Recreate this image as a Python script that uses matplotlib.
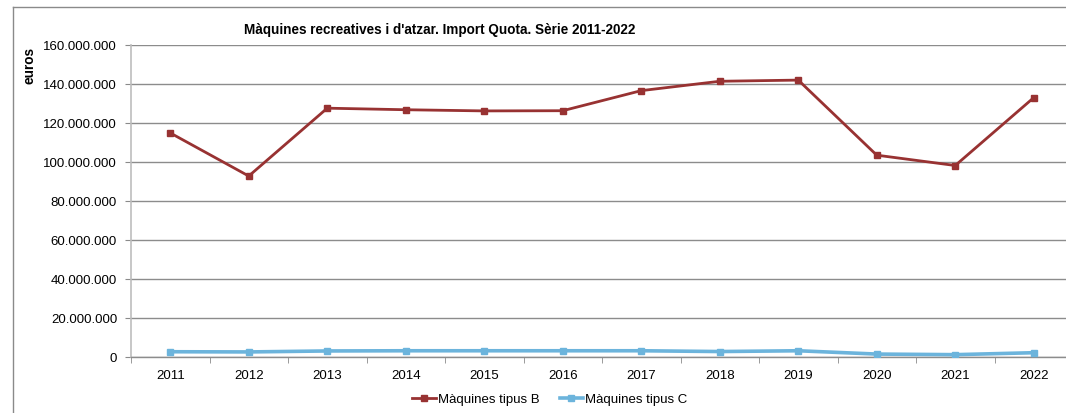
import matplotlib
matplotlib.use("Agg")
import matplotlib.pyplot as plt
from matplotlib.ticker import FuncFormatter, FixedLocator
from matplotlib.lines import Line2D

plt.rcParams['font.family'] = ['Liberation Sans', 'DejaVu Sans']

years = ["2011", "2012", "2013", "2014", "2015", "2016", "2017", "2018", "2019", "2020", "2021", "2022"]
tipus_b = [114.9e6, 92.8e6, 127.6e6, 126.8e6, 126.2e6, 126.3e6, 136.6e6, 141.4e6, 142.0e6, 103.5e6, 98.2e6, 133.0e6]
tipus_c = [2.7e6, 2.6e6, 3.1e6, 3.2e6, 3.2e6, 3.2e6, 3.2e6, 2.8e6, 3.2e6, 1.5e6, 1.2e6, 2.2e6]
series_names = ["Màquines tipus B", "Màquines tipus C"]
title = "Màquines recreatives i d'atzar. Import Quota. Sèrie 2011-2022"
ylabel = "euros"

W, H = 1066, 414
fig = plt.figure(figsize=(W / 100, H / 100), dpi=100)

# outer chart border (cropped at right and bottom): top and left edges only
bx, by = 12.5 / W, 1 - 7.5 / H
fig.add_artist(Line2D([bx, 1.0], [by, by], transform=fig.transFigure, color='#8a8a8a', lw=1.0))
fig.add_artist(Line2D([bx, bx], [0.0, by], transform=fig.transFigure, color='#8a8a8a', lw=1.0))

ax = fig.add_axes([131 / W, 1 - 358 / H, (1073 - 131) / W, (358 - 46) / H])

x = list(range(len(years)))
col_b = '#983232'
col_c = '#6cb4dc'
ax.plot(x, tipus_b, color=col_b, lw=2.0, marker='s', ms=4.5, label=series_names[0], zorder=3)
ax.plot(x, tipus_c, color=col_c, lw=2.6, marker='s', ms=4.5, label=series_names[1], zorder=3)

ax.set_xlim(-0.5, len(years) - 0.5)
ax.set_ylim(0, 160e6)
ax.set_yticks([i * 20e6 for i in range(9)])
ax.yaxis.set_major_formatter(FuncFormatter(lambda v, p: f"{int(round(v)):,}".replace(",", ".")))
ax.set_xticks(x)
ax.set_xticklabels(years)
ax.xaxis.set_minor_locator(FixedLocator([i + 0.5 for i in range(-1, len(years))]))
ax.tick_params(axis='x', which='major', length=0, pad=9, labelsize=9.5, colors='black')
ax.tick_params(axis='x', which='minor', length=4, direction='out', color='#8a8a8a')
ax.tick_params(axis='y', which='major', length=4, direction='out', color='#8a8a8a', pad=6, labelsize=9.5)

ax.grid(axis='y', color='#8c8c8c', lw=1.0)
ax.set_axisbelow(True)
for s in ['top', 'right']:
    ax.spines[s].set_visible(False)
ax.spines['left'].set_color('#bdbdbd')
ax.spines['left'].set_linewidth(1.2)
ax.spines['bottom'].set_color('#8c8c8c')
ax.spines['bottom'].set_linewidth(1.0)

fig.text(440 / W, 1 - 30 / H, title, ha='center', va='center', fontsize=9.75, fontweight='bold')
fig.text(30 / W, 1 - 65 / H, ylabel, ha='center', va='center', rotation=90, fontsize=9.8, fontweight='bold')

fig.legend(loc='center', bbox_to_anchor=(550 / W, 1 - 400 / H), ncol=2, frameon=False,
           fontsize=9.5, handlelength=1.8, handletextpad=0.15, columnspacing=1.5, markerscale=0.9)

fig.savefig("out.png", dpi=100)
